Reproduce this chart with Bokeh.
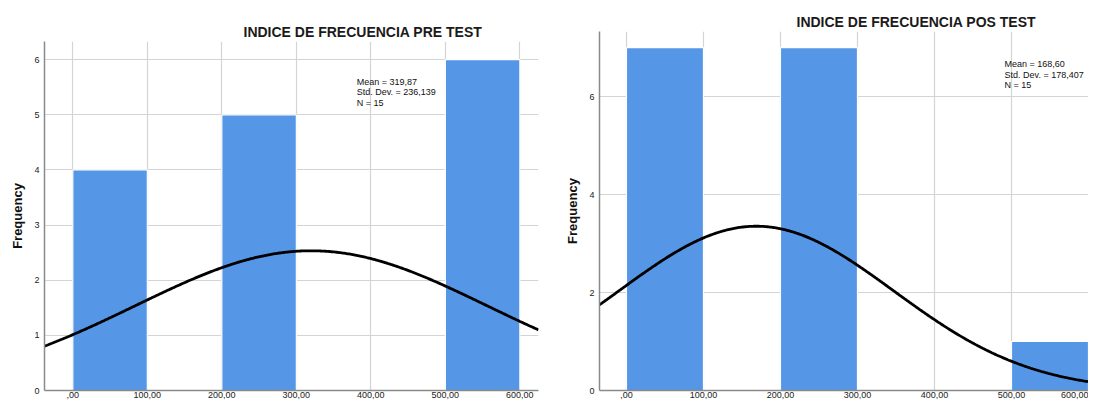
import numpy as np
from bokeh.plotting import figure
from bokeh.layouts import row
from bokeh.models import FixedTicker, Label, Range1d
from bokeh.embed import file_html
from bokeh.resources import INLINE

# ---- data ----
bin_left = [0, 100, 200, 300, 400, 500]
bin_right = [100, 200, 300, 400, 500, 600]
pre_counts = [4, 0, 5, 0, 0, 6]
pos_counts = [7, 0, 7, 0, 0, 1]
pre_mean, pre_sd, pre_n = 319.87, 236.139, 15
pos_mean, pos_sd, pos_n = 168.60, 178.407, 15
x_ticks = [0, 100, 200, 300, 400, 500, 600]
x_tick_labels = [",00", "100,00", "200,00", "300,00", "400,00", "500,00", "600,00"]
pre_y_ticks = [0, 1, 2, 3, 4, 5, 6]
pos_y_ticks = [0, 2, 4, 6]
pre_title = "INDICE DE FRECUENCIA PRE TEST"
pos_title = "INDICE DE FRECUENCIA POS TEST"
pre_stats = ["Mean = 319,87", "Std. Dev. = 236,139", "N = 15"]
pos_stats = ["Mean = 168,60", "Std. Dev. = 178,407", "N = 15"]

FONT = "Liberation Sans"
BAR = "#5596e6"
GRID = "#d4d4d4"
AXIS = "#8a8a8a"


def make(title, counts, mean, sd, n, yticks, xr, yr, width, height,
         bl, br, bt, bb, title_offset, stats, stats_xy):
    p = figure(width=width, height=height, output_backend="svg",
               toolbar_location=None, x_range=Range1d(*xr), y_range=Range1d(*yr),
               min_border_left=bl, min_border_right=br, min_border_top=bt,
               min_border_bottom=bb)
    p.frame_align = False
    p.title.text = title
    p.title.text_font = FONT
    p.title.text_font_size = "14px"
    p.title.text_font_style = "bold"
    p.title.text_color = "#1a1a1a"
    p.title.align = "left"
    p.title.offset = title_offset
    p.title.standoff = 4
    p.outline_line_color = None
    p.background_fill_color = "white"
    p.border_fill_color = "white"

    p.xaxis.ticker = FixedTicker(ticks=x_ticks)
    p.xaxis.major_label_overrides = {t: l for t, l in zip(x_ticks, x_tick_labels)}
    p.yaxis.ticker = FixedTicker(ticks=yticks)
    p.xgrid.ticker = FixedTicker(ticks=x_ticks)
    p.ygrid.ticker = FixedTicker(ticks=yticks)
    for g in (p.xgrid, p.ygrid):
        g.grid_line_color = GRID
        g.grid_line_width = 1.2
    for ax in (p.xaxis, p.yaxis):
        ax.axis_line_color = AXIS
        ax.axis_line_width = 1.5
        ax.major_tick_line_color = None
        ax.minor_tick_line_color = None
        ax.major_tick_out = 0
        ax.major_tick_in = 0
        ax.minor_tick_out = 0
        ax.minor_tick_in = 0
        ax.major_label_text_font = FONT
        ax.major_label_text_font_size = "9px"
        ax.major_label_text_color = "#222222"
    p.yaxis.axis_label = "Frequency"
    p.yaxis.axis_label_text_font = FONT
    p.yaxis.axis_label_text_font_size = "13px"
    p.yaxis.axis_label_text_font_style = "bold"
    p.yaxis.axis_label_text_color = "#111111"
    p.yaxis.axis_label_standoff = 6
    p.yaxis.major_label_standoff = 5
    p.xaxis.major_label_standoff = 1

    p.quad(left=bin_left, right=bin_right, bottom=0, top=counts,
           fill_color=BAR, line_color="white", line_width=1.2)

    xs = np.linspace(xr[0], xr[1], 400)
    bw = bin_right[0] - bin_left[0]
    ys = n * bw * np.exp(-0.5 * ((xs - mean) / sd) ** 2) / (sd * np.sqrt(2 * np.pi))
    p.line(xs, ys, line_color="black", line_width=2.8)

    sx, sy = stats_xy
    p.add_layout(Label(x=sx, y=sy, text="\n".join(stats), text_font=FONT,
                       text_font_size="9px", text_color="#111111",
                       text_baseline="top", text_line_height=1.05))
    return p


p1 = make(pre_title, pre_counts, pre_mean, pre_sd, pre_n, pre_y_ticks,
          (-38, 625), (0, 6.33), 542, 402, 44, 4, 41, 12, 199,
          pre_stats, (381, 5.69))
p2 = make(pos_title, pos_counts, pos_mean, pos_sd, pos_n, pos_y_ticks,
          (-35, 600), (0, 7.33), 546, 402, 57, 0, 31, 12, 197,
          pos_stats, (491, 6.76))

layout = row(p1, p2, spacing=0)
open("out.html", "w").write(file_html(layout, INLINE))
